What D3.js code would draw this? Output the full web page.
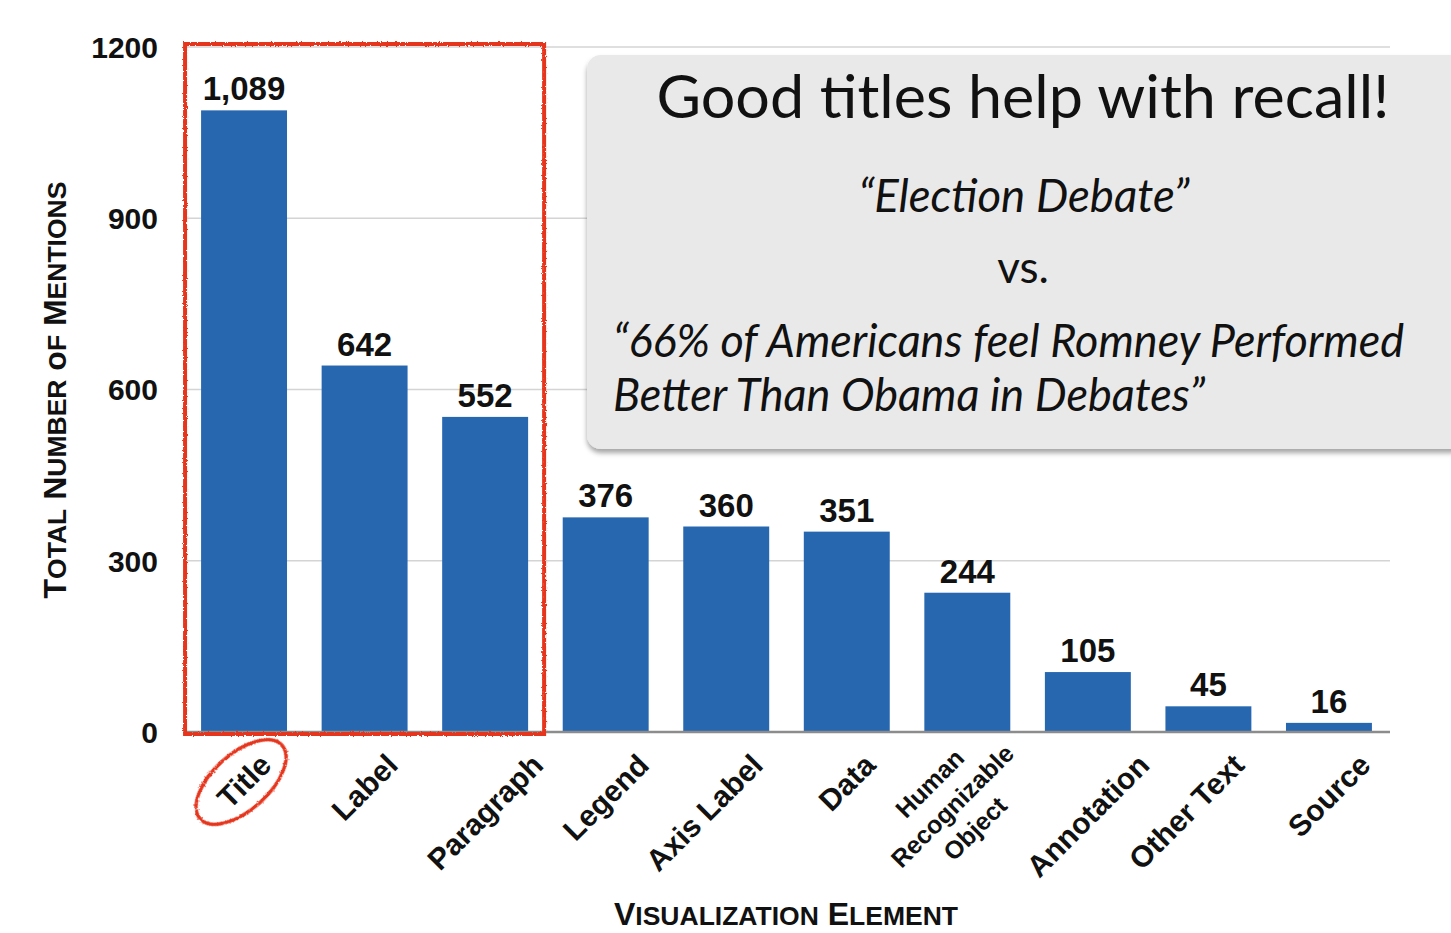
<!DOCTYPE html>
<html>
<head>
<meta charset="utf-8">
<script src="https://cdn.jsdelivr.net/npm/d3@7"></script>
<style>
body{margin:0;background:#fff;}
svg{display:block;}
</style>
</head>
<body>
<script>
// data
var elements = ["Title","Label","Paragraph","Legend","Axis Label","Data","Human Recognizable Object","Annotation","Other Text","Source"];
var mentions = [1089,642,552,376,360,351,244,105,45,16];
var yTicks = [0,300,600,900,1200];
var calloutTitle = "Good titles help with recall!";
var calloutQuote = "\u201cElection Debate\u201d";
var calloutVs = "vs.";
var calloutAlt = ["\u201c66% of Americans feel Romney Performed","Better Than Obama in Debates\u201d"];

var W = 1451, H = 933;
var blue = "#2767b0", red = "#e5341b";
var sans = "'Liberation Sans', Arial, sans-serif";

var svg = d3.select("body").append("svg")
	.attr("width",W)
	.attr("height",H);

var defs = svg.append("defs");
// rough marker-like stroke for the red highlight
var rough = defs.append("filter").attr("id","rough").attr("x","-5%").attr("y","-5%").attr("width","110%").attr("height","110%");
rough.append("feTurbulence").attr("type","fractalNoise").attr("baseFrequency","0.6").attr("numOctaves",2).attr("result","n");
rough.append("feDisplacementMap").attr("in","SourceGraphic").attr("in2","n").attr("scale",3);
var shadow = defs.append("filter").attr("id","shadow").attr("x","-5%").attr("y","-5%").attr("width","110%").attr("height","115%");
shadow.append("feDropShadow").attr("dx",0).attr("dy",4).attr("stdDeviation",2.5).attr("flood-color","#000").attr("flood-opacity",0.35);

var data = elements.map(function(d,i){ return {name:d, value:mentions[i]}; });

var x = d3.scaleBand()
	.domain(elements)
	.range([183,1390])
	.paddingInner(0.287)
	.paddingOuter(0.15);
var y = d3.scaleLinear()
	.domain([0,1200])
	.range([732,47]);

//网格线
svg.append("g").selectAll("line")
	.data(yTicks.slice(1))
	.enter().append("line")
	.attr("x1",183).attr("x2",1390)
	.attr("y1",function(d){ return y(d); })
	.attr("y2",function(d){ return y(d); })
	.style("stroke","#d4d4d4")
	.style("stroke-width",1.5);

// y tick labels
svg.append("g").selectAll("text")
	.data(yTicks)
	.enter().append("text")
	.attr("x",158)
	.attr("y",function(d){ return y(d); })
	.attr("dy","0.36em")
	.attr("text-anchor","end")
	.style("font-family",sans)
	.style("font-weight","bold")
	.style("font-size","30px")
	.style("fill","#111")
	.text(function(d){ return d; });

// bars
svg.append("g").selectAll("rect")
	.data(data)
	.enter().append("rect")
	.attr("x",function(d){ return x(d.name); })
	.attr("width",x.bandwidth())
	.attr("y",function(d){ return y(d.value); })
	.attr("height",function(d){ return y(0) - y(d.value); })
	.style("fill",blue);

// baseline
svg.append("line")
	.attr("x1",183).attr("x2",1390)
	.attr("y1",y(0)).attr("y2",y(0))
	.style("stroke","#8c8c8c")
	.style("stroke-width",2.5);

// value labels
var fmt = d3.format(",");
svg.append("g").selectAll("text")
	.data(data)
	.enter().append("text")
	.attr("x",function(d){ return x(d.name) + x.bandwidth()/2; })
	.attr("y",function(d){ return y(d.value) - 10; })
	.attr("text-anchor","middle")
	.style("font-family",sans)
	.style("font-weight","bold")
	.style("font-size","33px")
	.style("fill","#111")
	.text(function(d){ return fmt(d.value); });

// rotated category labels: box centred under the bar, top aligned
var labelG = svg.append("g")
	.style("font-family",sans)
	.style("font-weight","bold")
	.style("fill","#111");
data.forEach(function(d){
	var cx = x(d.name) + x.bandwidth()/2;
	var words = d.name.split(" ");
	if(d.name.length > 20){
		var g = labelG.append("g")
			.attr("transform","translate(" + (cx - 15) + ",806) rotate(-45)");
		words.forEach(function(w,k){
			g.append("text")
				.attr("x",0)
				.attr("y",(k - (words.length - 1)/2) * 32)
				.attr("dy","0.35em")
				.attr("text-anchor","middle")
				.style("font-size","25px")
				.text(w);
		});
	} else {
		var t = labelG.append("text")
			.attr("text-anchor","middle")
			.attr("dy","0.35em")
			.style("font-size","30px")
			.text(d.name);
		var L = t.node().getComputedTextLength();
		var h = 30 * 0.9;
		// two-word labels sit a little left of the bar in the original
		var shift = words.length > 1 ? -22 : 0;
		t.attr("transform","translate(" + (cx + shift) + "," + (750 + (L + h) * 0.3536) + ") rotate(-45)");
	}
});

// small caps axis titles
function smallCaps(sel,str,big,small){
	str.split(" ").forEach(function(w,k){
		sel.append("tspan").style("font-size",big + "px").text((k ? " " : "") + w[0]);
		sel.append("tspan").style("font-size",small + "px").text(w.slice(1).toUpperCase());
	});
}
var yTitle = svg.append("text")
	.attr("transform","translate(66,390) rotate(-90)")
	.attr("text-anchor","middle")
	.style("font-family",sans)
	.style("font-weight","bold")
	.style("fill","#111");
smallCaps(yTitle,"Total Number of Mentions",32,26.5);
var xTitle = svg.append("text")
	.attr("x",786)
	.attr("y",925)
	.attr("text-anchor","middle")
	.style("font-family",sans)
	.style("font-weight","bold")
	.style("fill","#111");
smallCaps(xTitle,"Visualization Element",32,26.5);

// red highlight box round the text elements
svg.append("rect")
	.attr("x",x("Title") - 16)
	.attr("y",44)
	.attr("width",x("Paragraph") + x.bandwidth() + 16 - (x("Title") - 16))
	.attr("height",690)
	.style("fill","none")
	.style("stroke",red)
	.style("stroke-width",4)
	.attr("filter","url(#rough)");
svg.append("ellipse")
	.attr("transform","translate(" + (x("Title") + x.bandwidth()/2 - 3) + ",782) rotate(-42)")
	.attr("rx",55)
	.attr("ry",28)
	.style("fill","none")
	.style("stroke",red)
	.style("stroke-width",3.5)
	.attr("filter","url(#rough)");

// callout
var call = svg.append("g");
call.append("rect")
	.attr("x",587).attr("y",55)
	.attr("width",900).attr("height",394)
	.attr("rx",14)
	.style("fill","#e9e9e9")
	.attr("filter","url(#shadow)");
var cf = "Lato, 'Open Sans', sans-serif";
call.append("text")
	.attr("x",1023).attr("y",118)
	.attr("text-anchor","middle")
	.attr("textLength",733).attr("lengthAdjust","spacingAndGlyphs")
	.style("font-family",cf).style("font-size","60px").style("fill","#111")
	.text(calloutTitle);
call.append("text")
	.attr("x",1024).attr("y",212)
	.attr("text-anchor","middle")
	.attr("textLength",331).attr("lengthAdjust","spacingAndGlyphs")
	.style("font-family",cf).style("font-style","italic").style("font-size","46px").style("fill","#111")
	.text(calloutQuote);
call.append("text")
	.attr("x",1023).attr("y",283)
	.attr("text-anchor","middle")
	.style("font-family",cf).style("font-size","44px").style("fill","#111")
	.text(calloutVs);
call.selectAll(".alt")
	.data(calloutAlt)
	.enter().append("text")
	.attr("class","alt")
	.attr("x",613)
	.attr("y",function(d,i){ return 357 + i * 54; })
	.attr("textLength",function(d,i){ return i ? 592 : 791; })
	.attr("lengthAdjust","spacingAndGlyphs")
	.style("font-family",cf).style("font-style","italic").style("font-size","46px").style("fill","#111")
	.text(function(d){ return d; });
</script>
</body>
</html>
